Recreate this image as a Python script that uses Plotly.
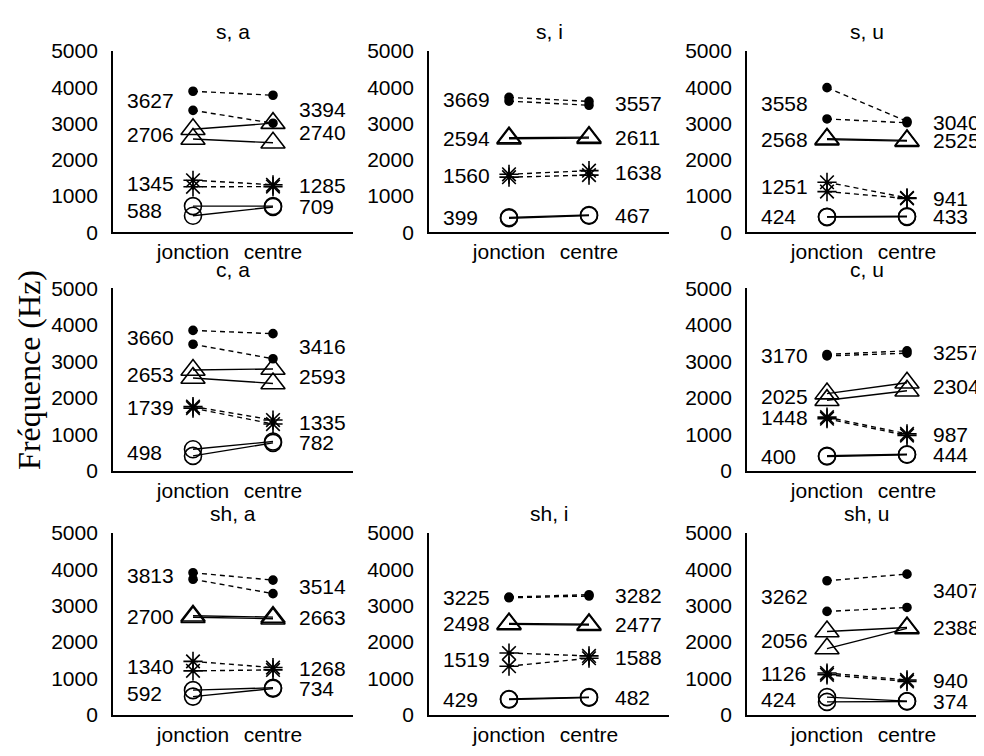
import plotly.graph_objects as go

# ---------------- data ----------------
panel_names = ["s, a", "s, i", "s, u", "c, a", "c, u", "sh, a", "sh, i", "sh, u"]
positions = ["jonction", "centre"]
y_ticks = [0, 1000, 2000, 3000, 4000, 5000]

# each entry: [speaker A, speaker B]
f4_jonction = [[3890, 3364], [3720, 3618], [3990, 3126], [3850, 3470],
               [3190, 3150], [3902, 3724], [3235, 3215], [3683, 2841]]
f4_centre = [[3780, 3008], [3610, 3504], [3060, 3020], [3760, 3072],
             [3290, 3224], [3700, 3328], [3300, 3264], [3864, 2950]]

f2_jonction = [[2840, 2572], [2610, 2578], [2580, 2556], [2764, 2542],
               [2115, 1935], [2720, 2680], [2510, 2486], [2290, 1822]]
f2_centre = [[3010, 2470], [2625, 2597], [2535, 2515], [2792, 2394],
             [2414, 2194], [2685, 2641], [2490, 2464], [2400, 2376]]

f3_jonction = [[1435, 1255], [1600, 1520], [1380, 1122], [1760, 1718],
               [1470, 1426], [1470, 1210], [1700, 1338], [1150, 1102]]
f3_centre = [[1310, 1260], [1700, 1576], [950, 932], [1390, 1280],
             [1010, 964], [1300, 1236], [1620, 1556], [960, 920]]

f1_jonction = [[722, 455], [410, 388], [430, 418], [590, 406],
               [410, 390], [680, 504], [436, 422], [490, 358]]
f1_centre = [[720, 698], [475, 459], [440, 426], [800, 764],
             [450, 438], [745, 723], [490, 474], [380, 368]]

# printed mean values (order: F4, F2, F3, F1)
labels_jonction = [[3627, 2706, 1345, 588], [3669, 2594, 1560, 399],
                   [3558, 2568, 1251, 424], [3660, 2653, 1739, 498],
                   [3170, 2025, 1448, 400], [3813, 2700, 1340, 592],
                   [3225, 2498, 1519, 429], [3262, 2056, 1126, 424]]
labels_centre = [[3394, 2740, 1285, 709], [3557, 2611, 1638, 467],
                 [3040, 2525, 941, 433], [3416, 2593, 1335, 782],
                 [3257, 2304, 987, 444], [3514, 2663, 1268, 734],
                 [3282, 2477, 1588, 482], [3407, 2388, 940, 374]]

y_title = "Fréquence (Hz)"

# ---------------- layout ----------------
OFF = 8                      # page body margin of the html page
W, H = 984 - OFF, 756 - OFF  # figure size
panel_row = [0, 0, 0, 1, 1, 2, 2, 2]
panel_col = [0, 1, 2, 0, 2, 0, 1, 2]
col_px = [113, 429, 747]                       # y-axis pixel x (window coords)
row_px = [(40, 227), (285, 473), (537, 725)]  # (top=5000, bottom=0)
PX_PER_UNIT = 80
FONT = "Liberation Sans, Arial, sans-serif"
FS = 21


def px_x(px):
    return (px - OFF) / W


def px_y(px):
    return 1 - (px - OFF) / H


styles = [
    # (jonction list, centre list, marker symbol, size, dash)
    (f4_jonction, f4_centre, "circle", 8, "5px,4px"),
    (f2_jonction, f2_centre, "triangle-up-open", 21, "solid"),
    (f3_jonction, f3_centre, "asterisk-open", 16, "5px,4px"),
    (f1_jonction, f1_centre, "circle-open", 17, "solid"),
]

fig = go.Figure()
annotations = []
layout = {}
tfont = dict(family=FONT, size=FS, color="black")

for p, name in enumerate(panel_names):
    r, c = panel_row[p], panel_col[p]
    ax = "" if p == 0 else str(p + 1)
    x0 = col_px[c]
    w = min(240, 984 - x0)
    top, bot = row_px[r]
    layout["xaxis" + ax] = dict(
        domain=[px_x(x0), px_x(x0 + w)], range=[0, w / PX_PER_UNIT],
        anchor="y" + ax, tickvals=[1, 2], ticktext=positions,
        showline=True, linecolor="black", linewidth=1.8, showgrid=False,
        zeroline=False, ticks="", tickfont=tfont, fixedrange=True,
    )
    layout["yaxis" + ax] = dict(
        domain=[px_y(bot), px_y(top)], range=[0, 5000],
        anchor="x" + ax, tickvals=y_ticks, ticktext=[str(v) for v in y_ticks],
        showline=True, linecolor="black", linewidth=1.8, showgrid=False,
        zeroline=False, ticks="", ticklabelstandoff=9,
        tickfont=tfont, fixedrange=True,
    )
    for (jl, cl, sym, size, dash) in styles:
        for s in range(2):
            fig.add_trace(go.Scatter(
                x=[1, 2], y=[jl[p][s], cl[p][s]], xaxis="x" + ax, yaxis="y" + ax,
                mode="lines+markers",
                line=dict(color="black", width=1.4, dash=dash),
                marker=dict(symbol=sym, size=size, color="black",
                            line=dict(color="black", width=1.6)),
                showlegend=False, hoverinfo="skip",
            ))
    for v in labels_jonction[p]:
        annotations.append(dict(x=0.15, y=v, xref="x" + ax, yref="y" + ax,
                                text=str(v), showarrow=False, xanchor="left",
                                yanchor="middle", font=tfont))
    for v in labels_centre[p]:
        annotations.append(dict(x=184 / PX_PER_UNIT, y=v, xref="x" + ax, yref="y" + ax,
                                text=str(v), showarrow=False, xanchor="left",
                                yanchor="middle", font=tfont))
    annotations.append(dict(x=px_x(x0 + 120), y=px_y(top - 20), xref="paper", yref="paper",
                            text=name, showarrow=False, xanchor="center", yanchor="middle",
                            font=tfont))

annotations.append(dict(x=px_x(29), y=px_y(369), xref="paper", yref="paper",
                        text=y_title, textangle=-90, showarrow=False,
                        xanchor="center", yanchor="middle",
                        font=dict(family="Liberation Serif, Times New Roman, serif", size=32, color="black")))

fig.update_layout(
    width=W, height=H, margin=dict(l=0, r=0, t=0, b=0),
    paper_bgcolor="white", plot_bgcolor="white",
    annotations=annotations, **layout,
)
fig.write_html("out.html")
